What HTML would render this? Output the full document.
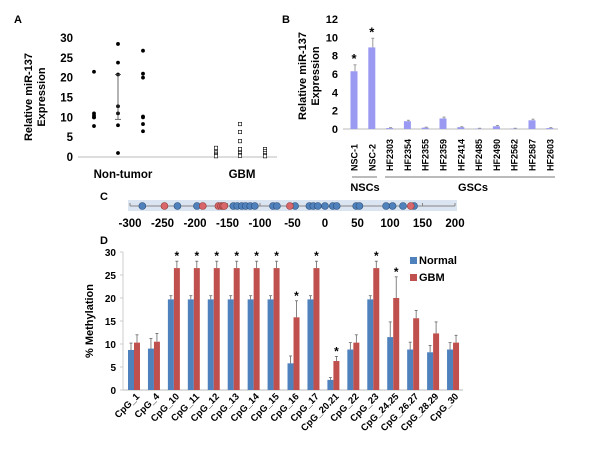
<!DOCTYPE html>
<html><head><meta charset="utf-8"><style>
html,body{margin:0;padding:0;background:#fff;}
svg{display:block;font-family:"Liberation Sans",Arial,sans-serif;font-weight:bold;}
</style></head><body>
<svg id="fig" width="600" height="450" viewBox="0 0 600 450">
<text x="14" y="23" font-size="11">A</text>
<text x="282" y="23" font-size="11">B</text>
<text x="100" y="200" font-size="11">C</text>
<text x="100" y="244" font-size="11">D</text>
<g id="pa"></g>
<g id="pb"></g>
<g id="pc"></g>
<g id="pd"></g>
</svg>
<script>
// Panel A data
const aTicks=[0,5,10,15,20,25,30];
const aNonTumor=[[21.5,11,10.5,10,10,7.8],[28.5,23.8,20.8,12.8,11,8,1],[26.8,21,20,10.2,10,8.3,6.5]];
const aGBM=[[2.3,1.2,0.8,0.5,0.2],[8.3,6.3,4,2,1,0.5,0.3],[2,1.5,1,0.5,0.2]];
const aErr=[9.5,20.8];
// Panel B data
const bCats=["NSC-1","NSC-2","HF2303","HF2354","HF2355","HF2359","HF2414","HF2485","HF2490","HF2562","HF2587","HF2603"];
const bVals=[6.3,8.9,0.1,0.85,0.15,1.15,0.2,0.05,0.3,0.05,0.95,0.1];
const bErrs=[0.7,1.0,0.05,0.1,0.05,0.15,0.05,0.03,0.08,0.03,0.12,0.05];
const bTicks=[0,2,4,6,8,10,12];
// Panel C data
const cTicks=[-300,-250,-200,-150,-100,-50,0,50,100,150,200];
const cBlue=[-281,-227,-197,-141,-135,-128,-122,-115,-108,-80,-74,-46,-24,-18,-11,0,12,18,48,53,94,104,120,137];
const cRed=[-247,-188,-164,-160,-157,-155,-54,132];
// Panel D data
const dCats=["CpG_1","CpG_4","CpG_10","CpG_11","CpG_12","CpG_13","CpG_14","CpG_15","CpG_16","CpG_17","CpG_20.21","CpG_22","CpG_23","CpG_24.25","CpG_26.27","CpG_28.29","CpG_30"];
const dNormal=[8.7,9,19.7,19.7,19.7,19.7,19.7,19.7,5.8,19.7,2.2,8.8,19.7,11.5,8.8,8.2,8.8];
const dGBM=[10.3,10.5,26.5,26.5,26.5,26.5,26.5,26.5,15.8,26.5,6.3,10.3,26.5,20,15.6,12.3,10.3];
const dNormalErr=[1.5,2.2,0.8,0.8,0.8,0.8,0.8,0.8,1.6,0.8,0.5,1.5,0.8,3.3,1.6,1.5,1.5];
const dGBMErr=[1.7,1.8,1.5,1.5,1.5,1.5,1.5,1.5,3.6,1.5,1.0,1.7,1.5,4.6,1.7,2.5,1.6];
const dStar=[0,0,1,1,1,1,1,1,1,1,1,0,1,1,0,0,0];
const dTicks=[0,5,10,15,20,25,30];

const NS="http://www.w3.org/2000/svg";
function mk(p,tag,at,txt){const e=document.createElementNS(NS,tag);for(const k in at)e.setAttribute(k,at[k]);if(txt!==undefined)e.textContent=txt;p.appendChild(e);return e;}

// ---- Panel A ----
(function(){
const g=document.getElementById('pa');
const y=v=>157-v*(119/30);
mk(g,'line',{x1:78,y1:157,x2:277,y2:157,stroke:'#bbb','stroke-width':1});
aTicks.forEach(t=>{const e=mk(g,'text',{x:73,y:y(t)+4,'font-size':11.5,'text-anchor':'end'},t);
});
const ttl=mk(g,'text',{transform:'translate(38,97) rotate(-90)','font-size':11,'text-anchor':'middle'});
mk(ttl,'tspan',{x:0,dy:-6},'Relative miR-137');mk(ttl,'tspan',{x:0,dy:13},'Expression');

const nx=[94,118,143],gx=[216,240,265];
aNonTumor.forEach((col,i)=>col.forEach(v=>{const c=mk(g,'circle',{cx:nx[i],cy:y(v),r:1.9,fill:'#000'});
}));
aGBM.forEach((col,i)=>col.forEach(v=>{const r=mk(g,'rect',{x:gx[i]-1.7,y:y(v)-1.7,width:3.4,height:3.4,fill:'#fff',stroke:'#000','stroke-width':0.6});
}));
mk(g,'line',{x1:118,y1:y(aErr[0]),x2:118,y2:y(aErr[1]),stroke:'#444','stroke-width':0.8});
aErr.forEach(v=>mk(g,'line',{x1:115,y1:y(v),x2:121,y2:y(v),stroke:'#444','stroke-width':0.8}));
let t=mk(g,'text',{x:123,y:178,'font-size':11.5,'text-anchor':'middle'},'Non-tumor');

t=mk(g,'text',{x:242,y:178,'font-size':11.5,'text-anchor':'middle'},'GBM');

})();

// ---- Panel B ----
(function(){
const g=document.getElementById('pb');
const y=v=>129-v*(110/12);
const x=i=>354+i*17.8;
mk(g,'line',{x1:343,y1:129,x2:558,y2:129,stroke:'#bbb','stroke-width':1});
bTicks.forEach(t=>{const e=mk(g,'text',{x:338,y:y(t)+4,'font-size':11,'text-anchor':'end'},t);
});
const ttl=mk(g,'text',{transform:'translate(310,76) rotate(-90)','font-size':11,'text-anchor':'middle'});
mk(ttl,'tspan',{x:0,dy:-4},'Relative miR-137');mk(ttl,'tspan',{x:0,dy:13},'Expression');

bVals.forEach((v,i)=>{
const r=mk(g,'rect',{x:x(i)-3.5,y:y(v),width:7,height:129-y(v),fill:'#9a9af3'});

const ye=y(v+bErrs[i]);
mk(g,'line',{x1:x(i)+1,y1:y(v),x2:x(i)+1,y2:ye,stroke:'#999','stroke-width':1});
mk(g,'line',{x1:x(i)-0.5,y1:ye,x2:x(i)+2.5,y2:ye,stroke:'#999','stroke-width':1});
if(i<2){const s=mk(g,'text',{x:x(i),y:ye-2,'font-size':13,'text-anchor':'middle'},'*');
}
const l=mk(g,'text',{transform:`translate(${x(i)+3.5},171) rotate(-90)`,'font-size':9,'text-anchor':'start'},bCats[i]);

});
mk(g,'line',{x1:352,y1:177,x2:377,y2:177,stroke:'#777','stroke-width':1});
mk(g,'line',{x1:385,y1:177,x2:555,y2:177,stroke:'#777','stroke-width':1});
let t=mk(g,'text',{x:365,y:191,'font-size':11,'text-anchor':'middle'},'NSCs');

t=mk(g,'text',{x:473,y:191,'font-size':11,'text-anchor':'middle'},'GSCs');

})();

// ---- Panel C ----
(function(){
const g=document.getElementById('pc');
const x=v=>325+v*0.65;
mk(g,'rect',{x:128,y:200,width:329,height:11,fill:'#dbe5f1'});
mk(g,'line',{x1:x(-300),y1:206,x2:x(200),y2:206,stroke:'#888','stroke-width':1});
cTicks.forEach(t=>{mk(g,'line',{x1:x(t),y1:203,x2:x(t),y2:206,stroke:'#888','stroke-width':1});
const e=mk(g,'text',{x:x(t),y:227,'font-size':11.5,'text-anchor':'middle'},t);
});
cBlue.forEach(v=>{const c=mk(g,'circle',{cx:x(v),cy:206,r:3.5,fill:'#4f81bd',stroke:'#2c4d75','stroke-width':0.6});
});
cRed.forEach(v=>{const c=mk(g,'circle',{cx:x(v),cy:206,r:3.5,fill:'#d9666a',stroke:'#8c3836','stroke-width':0.6});
});
})();

// ---- Panel D ----
(function(){
const g=document.getElementById('pd');
const y=v=>390-v*(138/30);
const x=i=>134+i*19.94;
mk(g,'line',{x1:123,y1:252,x2:123,y2:390,stroke:'#ccc','stroke-width':1});
mk(g,'line',{x1:123,y1:390,x2:463,y2:390,stroke:'#bbb','stroke-width':1});
dTicks.forEach(t=>{mk(g,'line',{x1:120,y1:y(t),x2:123,y2:y(t),stroke:'#ccc'});
const e=mk(g,'text',{x:116,y:y(t)+4,'font-size':10,'text-anchor':'end'},t);
});
const ttl=mk(g,'text',{transform:'translate(93,321) rotate(-90)','font-size':11,'text-anchor':'middle'},'% Methylation');

function bar(cx,v,e,col,name){
const r=mk(g,'rect',{x:cx,y:y(v),width:6,height:390-y(v),fill:col});

const ye=y(v+e);
mk(g,'line',{x1:cx+3,y1:y(v),x2:cx+3,y2:ye,stroke:'#666','stroke-width':0.8});
mk(g,'line',{x1:cx+1.5,y1:ye,x2:cx+4.5,y2:ye,stroke:'#666','stroke-width':0.8});
return ye;}
dCats.forEach((c,i)=>{
bar(x(i)-6,dNormal[i],dNormalErr[i],'#4f81bd','normal-bar');
const ye=bar(x(i),dGBM[i],dGBMErr[i],'#c0504d','gbm-bar');
if(dStar[i]){const s=mk(g,'text',{x:x(i)+3,y:ye-1,'font-size':12,'text-anchor':'middle'},'*');
}
const l=mk(g,'text',{transform:`translate(${x(i)+6},397) rotate(-45)`,'font-size':9.5,'text-anchor':'end'},c);

});
let r=mk(g,'rect',{x:410,y:257,width:7,height:7,fill:'#4f81bd'});

let t=mk(g,'text',{x:419,y:264,'font-size':11},'Normal');

r=mk(g,'rect',{x:410,y:274,width:7,height:7,fill:'#c0504d'});

t=mk(g,'text',{x:419,y:281,'font-size':11},'GBM');

})();
</script>
</body></html>
